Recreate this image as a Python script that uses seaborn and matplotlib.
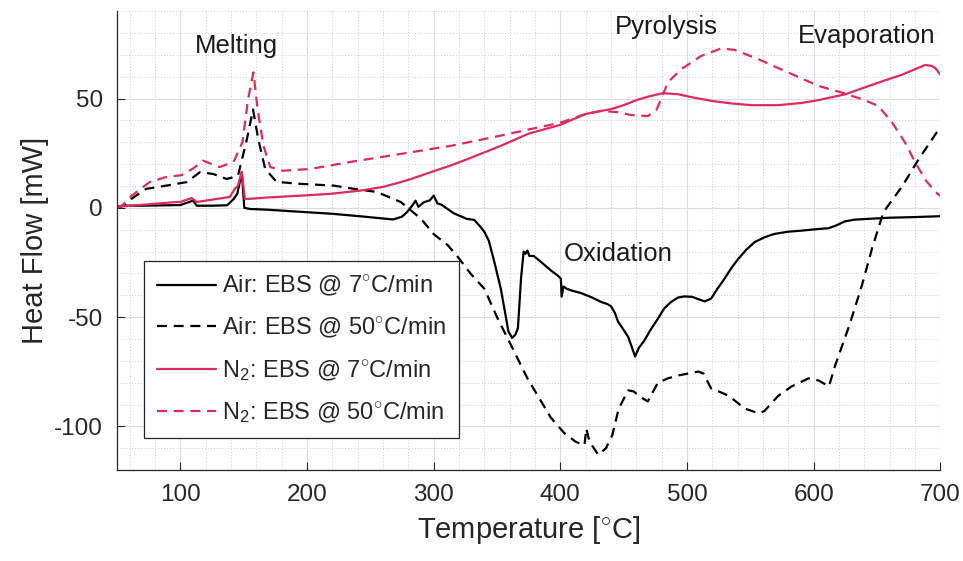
import numpy as np
import pandas as pd
import matplotlib
matplotlib.use("Agg")
import matplotlib.pyplot as plt
from matplotlib.ticker import MultipleLocator
import seaborn as sns

# DSC heat-flow traces (temperature in degC, heat flow in mW)
air7_T = [50, 55, 70, 90, 100, 106, 110, 113, 125, 137,
          142, 145, 148.5, 150.5, 155, 168, 195, 220, 245, 268,
          275, 279, 283, 285.7, 288, 292, 297, 300, 303, 306,
          311, 316, 320, 326, 332, 337, 340, 343.5, 348, 353,
          357, 359, 362, 364.5, 366.5, 369, 371, 372.5, 374, 375.5,
          379, 384.6, 392.5, 398, 400.4, 401, 402.5, 405, 410, 416.4,
          425, 432, 437, 440, 443, 445.5, 449, 453.5, 456, 459,
          462, 466, 471, 477, 482, 487.5, 493, 498, 504, 510,
          514, 519, 524, 529.6, 535, 540.5, 547, 553.5, 561, 569,
          580, 590.5, 601, 611.7, 618, 624.5, 632, 643.5, 660, 680, 700]
air7_HF = [0.5, 1.0, 1.0, 1.2, 1.3, 2.5, 3.3, 1.0, 1.0, 1.2,
           4.0, 6.5, 16.4, 0.0, -0.5, -0.8, -1.8, -2.7, -4.0, -5.3,
           -4.0, -1.9, 1.0, 3.3, 0.5, 2.5, 3.5, 5.6, 2.0, 1.5,
           -0.5, -2.5, -3.5, -5.0, -5.5, -8.7, -11, -15, -25, -37,
           -50, -56.6, -59.5, -58, -55, -32, -20, -21, -19.5, -22,
           -22, -24.7, -28.6, -31, -32.4, -40.6, -36, -37, -38, -39,
           -41, -43, -44, -45, -48, -52, -55, -59, -63, -68,
           -64, -61, -56, -50.7, -46, -43, -41, -40.5, -40.7, -42,
           -42.8, -41.5, -37, -32.4, -27.5, -23.3, -19, -15.6, -13.5, -11.9,
           -10.9, -10.4, -9.8, -9.3, -8, -6.2, -5.4, -5, -4.5, -4.2, -3.8]

air50_T = [50, 55, 61, 73, 89, 105, 115.6, 126, 136.6, 145.5,
           152, 157.4, 161.5, 167, 176, 195, 221, 237, 255, 274,
           290, 300, 311, 319, 329, 340, 350, 359.5, 374, 392.5,
           403, 412, 419, 420.5, 423, 430, 436, 441, 446, 453.5,
           458, 462, 469, 477, 485, 493, 509, 513, 519, 525,
           533, 545.5, 556.5, 561, 572, 582.6, 596, 604, 612, 617,
           628, 638, 646, 655, 670, 683, 700]
air50_HF = [0, 1, 4, 8.7, 10.2, 11.8, 16.4, 15.5, 13.2, 14.7,
            30, 45, 31.5, 17.8, 11.9, 11, 10.2, 8.7, 7.3, 2.7,
            -5, -12, -17, -22.4, -30, -37, -50, -61, -78, -96,
            -103, -107, -108.6, -101, -107, -113, -110, -104, -92, -83.5,
            -84, -86, -88.6, -80, -78, -76.7, -74.9, -75.8, -82.6, -84,
            -86, -91.8, -94, -93, -86, -81.7, -78, -79, -81.7, -72,
            -54, -35.6, -18.7, -2, 10, 22.4, 37]

n27_T = [50, 70, 97, 100, 109, 113, 139, 143, 145.5, 148.5,
         151, 170, 195, 218, 242, 260, 274, 282, 305, 313,
         327, 353, 375, 400, 420, 432.6, 440, 450, 461, 470,
         481, 493, 505, 519, 535, 551, 572, 590, 601, 613,
         625, 643.5, 657, 670, 688, 693, 696, 700]
n27_HF = [0.5, 1.4, 2.7, 2.7, 4.5, 2.7, 5, 8.7, 10.2, 16.4,
          4, 4.8, 5.6, 6.4, 7.9, 9.6, 11.8, 13.2, 17.8, 19.3,
          22.4, 28.4, 34, 38, 43, 44.4, 45.2, 47, 49.5, 51,
          52.5, 52, 50.5, 49, 47.8, 47, 47, 48, 49, 50.5,
          52, 55.8, 58.5, 61, 65.4, 65, 64, 61]

n250_T = [50, 55, 61.6, 76, 88, 101, 110, 118, 131, 142,
          149, 153.5, 157.7, 161, 165.6, 171, 181, 202.5, 234, 274,
          313.5, 347.5, 380, 400, 420, 432, 445, 456, 469, 476,
          485, 495.5, 511, 527, 537.6, 556.5, 577, 604, 622, 638,
          651, 662, 672, 680, 688, 696, 700]
n250_HF = [0, 1.5, 5.6, 11.9, 14, 15, 18, 21.6, 18.7, 21,
           30, 49.8, 62, 45, 28.4, 18.7, 17, 17.8, 21, 24.7,
           28.4, 32.4, 36.5, 39, 43, 44.4, 43.8, 42.5, 42, 45,
           57.5, 63.5, 69.5, 73, 72.3, 68, 62.7, 55.8, 52.8, 49.8,
           46.7, 39, 30, 21, 13, 7.3, 5.5]

labels = [r"Air: EBS @ 7$^{\circ}$C/min",
          r"Air: EBS @ 50$^{\circ}$C/min",
          r"N$_2$: EBS @ 7$^{\circ}$C/min",
          r"N$_2$: EBS @ 50$^{\circ}$C/min"]

annotations = [("Melting", 144, 74), ("Pyrolysis", 484, 83),
               ("Evaporation", 642, 78.5), ("Oxidation", 446, -21)]

RED = "#DF2A5C"
series = [
    (air7_T, air7_HF, "black", "-"),
    (air50_T, air50_HF, "black", "--"),
    (n27_T, n27_HF, RED, "-"),
    (n250_T, n250_HF, RED, "--"),
]

sns.set_theme(style="white")
plt.rcParams["font.family"] = ["Liberation Sans", "DejaVu Sans"]
plt.rcParams["mathtext.fontset"] = "custom"
plt.rcParams["mathtext.rm"] = "Liberation Sans"
plt.rcParams["mathtext.it"] = "Liberation Sans:italic"
plt.rcParams["mathtext.bf"] = "Liberation Sans:bold"
plt.rcParams["axes.unicode_minus"] = False

fig = plt.figure(figsize=(9.63, 5.61), dpi=100)
ax = fig.add_axes([0.1215, 0.162, 0.855, 0.818])

for (T, HF, color, ls), lab in zip(series, labels):
    df = pd.DataFrame({"Temperature": T, "HeatFlow": HF})
    line_kw = dict(x="Temperature", y="HeatFlow", data=df, ax=ax, color=color,
                   lw=1.6, sort=False, estimator=None, label=lab)
    sns.lineplot(**line_kw)
    if ls == "--":
        ax.lines[-1].set_dashes((4.5, 3.0))

ax.set_xlim(50, 700)
ax.set_ylim(-120, 90)
ax.xaxis.set_major_locator(MultipleLocator(100))
ax.yaxis.set_major_locator(MultipleLocator(50))
ax.xaxis.set_minor_locator(MultipleLocator(20))
ax.yaxis.set_minor_locator(MultipleLocator(10))
ax.grid(which="major", color="#dcdcdc", lw=0.8, ls="-")
ax.grid(which="minor", color="#cfcfcf", lw=0.7, ls=(0, (1, 2)))
ax.set_axisbelow(True)

for side in ["top", "right"]:
    ax.spines[side].set_visible(False)
for side in ["left", "bottom"]:
    ax.spines[side].set_color("#262626")
    ax.spines[side].set_linewidth(0.9)

ax.tick_params(which="major", direction="in", length=6, width=0.8,
               color="#262626", labelsize=17.5, labelcolor="#262626",
               left=True, bottom=True, pad=10)
ax.tick_params(which="minor", length=0)

ax.set_xlabel(r"Temperature [$^{\circ}$C]", fontsize=21, color="#262626", labelpad=6)
ax.set_ylabel("Heat Flow [mW]", fontsize=21, color="#262626", labelpad=4)

for txt, x, y in annotations:
    ax.text(x, y, txt, fontsize=18.5, color="#1a1a1a", ha="center", va="center")

leg = ax.legend(loc="upper left", bbox_to_anchor=(0.033, 0.455), fontsize=17,
                frameon=True, fancybox=False, framealpha=1, edgecolor="#262626",
                handlelength=2.5, handletextpad=0.25, labelspacing=0.75,
                borderpad=0.55, borderaxespad=0)
leg.get_frame().set_linewidth(0.9)
for h, (_, _, color, ls) in zip(leg.get_lines(), series):
    if ls == "--":
        h.set_dashes((4.5, 3.0))

fig.savefig("out.png", dpi=100)
